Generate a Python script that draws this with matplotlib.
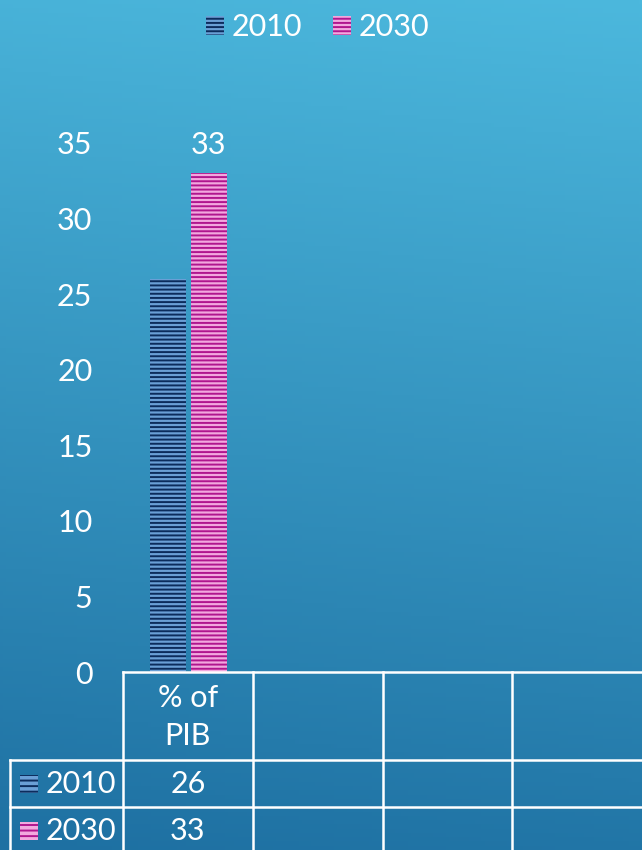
import numpy as np
import matplotlib
matplotlib.use("Agg")
import matplotlib.pyplot as plt
from matplotlib.transforms import blended_transform_factory

# data
categories = ["% of\nPIB", "", "", ""]
series = ["2010", "2030"]
values_2010 = [26, None, None, None]
values_2030 = [33, None, None, None]
yticks = [0, 5, 10, 15, 20, 25, 30, 35]

plt.rcParams['font.family'] = ['Lato', 'DejaVu Sans']
plt.rcParams['hatch.linewidth'] = 1.4

W, H = 642, 850
FS = 22
fig = plt.figure(figsize=(W / 100, H / 100), dpi=100)

# background gradient (light blue top -> darker blue bottom)
bg = fig.add_axes([0, 0, 1, 1], zorder=-10)
yy, xx = np.mgrid[0:1:200j, 0:1:200j]
t = np.clip(yy * 0.92 + (1 - xx) * 0.08, 0, 1)
top = np.array([76, 184, 221]) / 255
bot = np.array([30, 112, 162]) / 255
img = top[None, None, :] * (1 - t[..., None]) + bot[None, None, :] * t[..., None]
bg.imshow(img, aspect='auto', extent=[0, 1, 0, 1], origin='upper')
bg.axis('off')

# main axes
left, right = 123 / W, 1.0
bottom, topp = 1 - 672 / H, 1 - 143 / H
ax = fig.add_axes([left, bottom, right - left, topp - bottom])
ax.patch.set_alpha(0)
for s in ax.spines.values():
    s.set_visible(False)

x = np.arange(len(categories))
bw = 0.277
styles = {
    "2010": dict(fc="#6a9fd6", ec="#0c2c5c", off=-0.155),
    "2030": dict(fc="#f2a8de", ec="#b0168e", off=0.16),
}
for name, vals in zip(series, [values_2010, values_2030]):
    st = styles[name]
    xs = [xi + st["off"] for xi, v in zip(x, vals) if v is not None]
    vs = [v for v in vals if v is not None]
    bars = ax.bar(xs, vs, width=bw, color=st["fc"], edgecolor=st["ec"],
                  hatch='----', linewidth=0, label=name)
    if name == "2030":
        for b, v in zip(bars, vs):
            ax.annotate(str(v), (b.get_x() + b.get_width() / 2, v),
                        xytext=(0, 10), textcoords='offset points',
                        ha='center', va='bottom', color='white', fontsize=FS)

ax.set_xlim(-0.5, 3.5)
ax.set_ylim(0, 35)
ax.set_yticks(yticks)
ax.set_yticklabels([str(v) for v in yticks], color='white', fontsize=FS)
ax.tick_params(axis='y', length=0, pad=22)
ax.set_xticks([])

# data table under the plot, drawn by hand
tr = blended_transform_factory(ax.transData, fig.transFigure)
fy = lambda p: 1 - p / H
lw = 1.8
edges = np.arange(len(categories) + 1) - 0.5
# top line of table + row separators
fig.add_artist(plt.Line2D([edges[0], edges[-1]], [fy(672), fy(672)],
                          transform=tr, color='white', lw=lw))
x_lab = ax.transData.inverted().transform(fig.transFigure.transform((10 / W, 0)))[0]
for yp in (760, 807):
    fig.add_artist(plt.Line2D([x_lab, edges[-1]], [fy(yp), fy(yp)],
                              transform=tr, color='white', lw=lw))
for e in edges[:-1]:
    fig.add_artist(plt.Line2D([e, e], [fy(672), 0], transform=tr,
                              color='white', lw=lw))
fig.add_artist(plt.Line2D([x_lab, x_lab], [fy(760), 0], transform=tr,
                          color='white', lw=lw))

for xi, cat in zip(x, categories):
    fig.text(xi, fy(717), cat, transform=tr, ha='center', va='center',
             color='white', fontsize=FS, linespacing=1.45)
row_y = [784, 831]
for name, vals, yp in zip(series, [values_2010, values_2030], row_y):
    st = styles[name]
    for xi, v in zip(x, vals):
        if v is not None:
            fig.text(xi, fy(yp), str(v), transform=tr, ha='center',
                     va='center', color='white', fontsize=FS)
    fig.text(46 / W, fy(yp), name, ha='left', va='center', color='white',
             fontsize=FS)
    fig.patches.append(plt.Rectangle((20 / W, fy(yp) - 9 / H), 18 / W, 18 / H,
                                     transform=fig.transFigure, fc=st["fc"],
                                     ec=st["ec"], hatch='---', lw=0))

leg = fig.legend(loc='upper center', bbox_to_anchor=(0.495, 1.017), ncol=2,
                 frameon=False, fontsize=FS, handlelength=0.6,
                 handleheight=0.6, handletextpad=0.25, columnspacing=1.0,
                 labelcolor='white')

fig.savefig("out.png", dpi=100)
